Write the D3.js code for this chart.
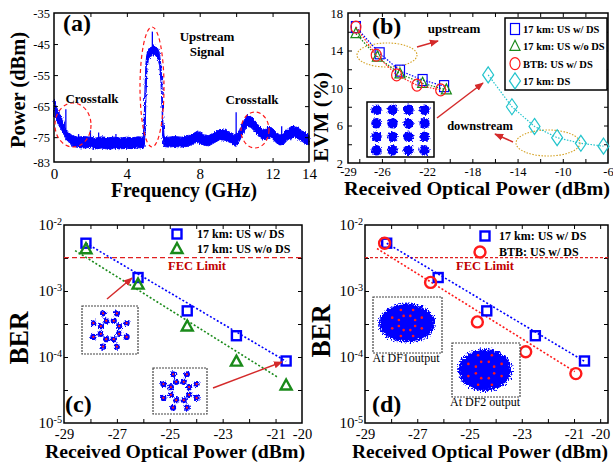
<!DOCTYPE html>
<html>
<head>
<meta charset="utf-8">
<script src="https://cdn.jsdelivr.net/npm/d3@7"></script>
<style>
  body { margin: 0; background: #fff; }
  svg text { font-family: "Liberation Serif", "Times New Roman", serif; }
</style>
</head>
<body>
<div id="chart"></div>
<script>
// ---------- Data ----------
// (a) spectrum: upper / lower edge of the noisy trace (dBm) and spurs
const specFreq  = [0, 0.1, 0.2, 0.3, 0.4, 0.5, 0.6, 0.8, 1.0, 1.3, 1.6, 2.0, 2.3, 2.6, 3.0, 3.3, 3.6, 4.0, 4.3, 4.6, 4.9, 4.95, 5.0, 5.05, 5.1, 5.2, 5.3, 5.45, 5.6, 5.7, 5.8, 5.87, 5.93, 5.98, 6.05, 6.3, 6.6, 7.0, 7.3, 7.6, 7.9, 8.2, 8.5, 8.8, 9.1, 9.4, 9.7, 10.0, 10.2, 10.4, 10.6, 10.8, 11.0, 11.2, 11.4, 11.6, 11.8, 12.0, 12.2, 12.4, 12.6, 12.8, 13.0, 13.2, 13.4, 13.6, 13.8, 14.0]
const specUpper = [-63, -65, -66.5, -67.5, -68.5, -70, -72, -73.5, -74.5, -75, -74.8, -75, -75.3, -74.9, -75.2, -75, -75.3, -75, -75.2, -74.9, -75, -70, -58, -51, -48, -46.5, -46, -45.5, -45.8, -46.5, -48.5, -52, -58, -70, -75, -75, -74.8, -75, -74.8, -74, -73, -74.2, -74.5, -73.5, -72.5, -72.8, -73.5, -74.5, -72.5, -70, -68, -68.3, -69.5, -71, -72.3, -72.5, -71.5, -72.2, -73.5, -74.3, -74, -72.5, -71.7, -71.5, -72, -73, -73.5, -74.5]
const specLower = [-68, -69, -70.5, -71.5, -72.5, -73.5, -75, -76.5, -77.8, -78.3, -78.5, -78.3, -78.8, -78.5, -78.9, -78.5, -78.8, -78.6, -78.7, -78.4, -78.5, -78, -74, -62, -53, -49.5, -49, -48.5, -48.8, -49.5, -52, -57, -65, -76, -78, -78.2, -78, -78.2, -78, -77.3, -76.5, -77.5, -77.8, -76.8, -75.8, -76, -76.8, -78, -76, -73.5, -71.5, -71.8, -73, -74.5, -75.5, -75.8, -75, -75.5, -76.8, -77.5, -77.3, -76, -75.2, -75, -75.5, -76.3, -77, -77.5]
const spurFreq  = [0.65, 1.35, 2.0, 2.45, 3.4, 5.4, 10.0, 12.5, 13.0]
const spurLevel = [-66, -74, -72.8, -73.5, -74, -41, -67, -71.5, -72.5]

// (b) EVM (%) vs received optical power (dBm)
const usWithDsPower    = [-28.3, -26.2, -24.4, -22.4, -20.5]
const usWithDsEvm      = [16.5, 13.7, 11.85, 10.85, 10.2]
const usWithoutDsPower = [-28.3, -26.4, -24.4, -22.4, -20.3]
const usWithoutDsEvm   = [15.8, 13.3, 11.5, 10.5, 9.8]
const btbPower         = [-28.3, -26.5, -24.7, -22.9, -20.8]
const btbEvm           = [16.5, 13.5, 11.4, 10.3, 9.8]
const dsPower          = [-16.6, -14.5, -12.5, -10.5, -8.4, -6.4]
const dsEvm            = [11.4, 8.0, 5.9, 4.7, 4.1, 3.8]

// (c), (d) BER vs received optical power (dBm)
const berUsWithDsPower    = [-28.17, -26.2, -24.34, -22.48, -20.6]
const berUsWithDs         = [5.3e-3, 1.6e-3, 5.0e-4, 2.1e-4, 8.7e-5]
const berUsWithoutDsPower = [-28.17, -26.2, -24.34, -22.48, -20.6]
const berUsWithoutDs      = [4.3e-3, 1.25e-3, 2.9e-4, 8.5e-5, 3.7e-5]
const berBtbPower         = [-28.25, -26.49, -24.7, -22.85, -20.93]
const berBtb              = [5.3e-3, 1.35e-3, 3.4e-4, 1.2e-4, 5.6e-5]
// dotted linear fits (end points)
const fitUsWithDsPower    = [-28.17, -20.6]
const fitUsWithDs         = [5.3e-3, 8.6e-5]
const fitUsWithoutDsPower = [-28.58, -20.94]
const fitUsWithoutDs      = [4.1e-3, 5.0e-5]
const fitBtbPower         = [-28.54, -20.97]
const fitBtb              = [4.4e-3, 6.0e-5]
const fecLimit = 3.2e-3

// constellation of the insets (two rings of 8 points)
const ringRadius = [1, 0.55]
const ringAngles = [22.5, 67.5, 112.5, 157.5, 202.5, 247.5, 292.5, 337.5]
const qamLevels  = [-1.5, -0.5, 0.5, 1.5]

// ---------- Colors ----------
const BLUE = '#0000ff', GREEN = '#1a8a1a', RED = '#ff1a1a', CYAN = '#22c4cc'
const ARROW = '#d42a2a', FEC = '#c00000', GOLD = '#d4a020'

// ---------- SVG ----------
const svg = d3.select('#chart')
  .append('svg')
  .attr('width', 613)
  .attr('height', 464)
  .style('background', '#fff')

const defs = svg.append('defs')
defs.append('marker')
  .attr('id', 'arrow')
  .attr('viewBox', '0 0 10 10')
  .attr('refX', 9).attr('refY', 5)
  .attr('markerWidth', 6).attr('markerHeight', 6)
  .attr('orient', 'auto')
  .append('path').attr('d', 'M0,1L10,5L0,9z').attr('fill', ARROW)

function roughFilter(id, freq, scale) {
  const f = defs.append('filter').attr('id', id)
    .attr('x', '-20%').attr('y', '-20%').attr('width', '140%').attr('height', '140%')
  f.append('feTurbulence').attr('type', 'fractalNoise').attr('baseFrequency', freq)
    .attr('numOctaves', 2).attr('seed', 4).attr('result', 'n')
  f.append('feDisplacementMap').attr('in', 'SourceGraphic').attr('in2', 'n')
    .attr('scale', scale).attr('xChannelSelector', 'R').attr('yChannelSelector', 'G')
}
roughFilter('roughTrace', '0.9 0.35', 3.5)
roughFilter('roughBlob', '0.6', 4)
roughFilter('roughCloud', '0.7', 9)

const fmt = d => String(d)

// Frame with inward ticks on all four sides, labels on bottom and left
function axes(x, y, o) {
  const [xl, xr] = x.range()
  const [yb, yt] = y.range()
  const g = svg.append('g')
  const tick = (axis, vals) => axis.tickValues(vals).tickSizeInner(-4).tickSizeOuter(0).tickFormat('')
  g.append('g').attr('transform', `translate(0,${yb})`).call(tick(d3.axisBottom(x), o.xTicks))
  g.append('g').attr('transform', `translate(0,${yt})`).call(tick(d3.axisTop(x), o.xTicks))
  g.append('g').attr('transform', `translate(${xl},0)`).call(tick(d3.axisLeft(y), o.yTicks))
  g.append('g').attr('transform', `translate(${xr},0)`).call(tick(d3.axisRight(y), o.yTicks))

  const xLab = g.append('g').attr('transform', `translate(0,${yb})`)
    .call(d3.axisBottom(x).tickValues(o.xLabels).tickSize(0).tickPadding(o.xPad).tickFormat(fmt))
  xLab.attr('font-family', null).attr('font-size', o.xFont)
  const yLab = g.append('g').attr('transform', `translate(${xl},0)`)
    .call(d3.axisLeft(y).tickValues(o.yLabels).tickSize(0).tickPadding(o.yPad).tickFormat(o.log ? '' : fmt))
  yLab.attr('font-family', null).attr('font-size', o.yFont)
  if (o.log) {
    yLab.selectAll('.tick text').each(function (d) {
      const t = d3.select(this)
      t.append('tspan').text('10')
      t.append('tspan').attr('dy', '-0.55em').attr('font-size', o.yFont * 0.68).text(String(Math.round(Math.log10(d))))
    })
  }
  g.selectAll('.domain').remove()
  g.selectAll('.tick line').attr('stroke', '#000').attr('stroke-width', 1)
  g.append('rect')
    .attr('x', xl).attr('y', yt).attr('width', xr - xl).attr('height', yb - yt)
    .attr('fill', 'none').attr('stroke', '#000').attr('stroke-width', 1.5)
}

function label(x, y, str, size, opt = {}) {
  const t = svg.append('text')
    .attr('x', x).attr('y', y)
    .attr('font-size', size)
    .attr('font-weight', opt.weight || 'bold')
    .attr('text-anchor', opt.anchor || 'middle')
    .attr('fill', opt.color || '#000')
    .text(str)
  if (opt.len) t.attr('textLength', opt.len).attr('lengthAdjust', 'spacingAndGlyphs')
  if (opt.rotate) t.attr('transform', `rotate(-90,${x},${y})`)
  return t
}

function arrow(x1, y1, x2, y2) {
  svg.append('line')
    .attr('x1', x1).attr('y1', y1).attr('x2', x2).attr('y2', y2)
    .attr('stroke', ARROW).attr('stroke-width', 1.5)
    .attr('marker-end', 'url(#arrow)')
}

// hollow markers
function symbol(g, type, cx, cy, w, h, color, sw) {
  let el
  if (type === 'square') {
    el = g.append('rect').attr('x', cx - w / 2).attr('y', cy - h / 2).attr('width', w).attr('height', h)
  } else if (type === 'circle') {
    el = g.append('ellipse').attr('cx', cx).attr('cy', cy).attr('rx', w / 2).attr('ry', h / 2)
  } else if (type === 'triangle') {
    el = g.append('path').attr('d', `M${cx},${cy - h * 0.6}L${cx + w / 2},${cy + h * 0.4}L${cx - w / 2},${cy + h * 0.4}Z`)
  } else {
    el = g.append('path').attr('d', `M${cx},${cy - h / 2}L${cx + w / 2},${cy}L${cx},${cy + h / 2}L${cx - w / 2},${cy}Z`)
  }
  el.attr('fill', 'none').attr('stroke', color).attr('stroke-width', sw)
}

function series(x, y, xs, ys, type, color, w, h, sw, dotted) {
  const g = svg.append('g')
  if (dotted) {
    g.append('path')
      .attr('d', d3.line()(xs.map((v, i) => [x(v), y(ys[i])])))
      .attr('fill', 'none').attr('stroke', color).attr('stroke-width', 1.2)
      .attr('stroke-dasharray', '1.5,1.5')
  }
  xs.forEach((v, i) => symbol(g, type, x(v), y(ys[i]), w, h, color, sw))
}

function fitLine(x, y, xs, ys, color) {
  svg.append('path')
    .attr('d', d3.line()(xs.map((v, i) => [x(v), y(ys[i])])))
    .attr('fill', 'none').attr('stroke', color).attr('stroke-width', 1.6)
    .attr('stroke-dasharray', '2,2')
}

// constellation points of the ring insets
const ringPoints = ringRadius.flatMap(r => ringAngles.map(a => [r * Math.cos(a * Math.PI / 180), -r * Math.sin(a * Math.PI / 180)]))

function ringInset(x0, y0, w, h, radius) {
  const cx = x0 + w / 2, cy = y0 + h / 2
  svg.append('rect').attr('x', x0).attr('y', y0).attr('width', w).attr('height', h)
    .attr('fill', '#fff').attr('stroke', '#444').attr('stroke-width', 1.2).attr('stroke-dasharray', '2,1')
  const g = svg.append('g')
  g.append('g').attr('filter', 'url(#roughBlob)')
    .selectAll('circle').data(ringPoints).join('circle')
    .attr('cx', d => cx + d[0] * radius).attr('cy', d => cy + d[1] * radius)
    .attr('r', 3.1).attr('fill', BLUE)
  g.append('g').selectAll('circle').data(ringPoints).join('circle')
    .attr('cx', d => cx + d[0] * radius).attr('cy', d => cy + d[1] * radius)
    .attr('r', 1.1).attr('fill', RED)
}

function cloudInset(x0, y0, w, h, cx, cy, rx, ry, dotR) {
  svg.append('rect').attr('x', x0).attr('y', y0).attr('width', w).attr('height', h)
    .attr('fill', '#fff').attr('stroke', '#444').attr('stroke-width', 1.2).attr('stroke-dasharray', '2,1')
  svg.append('ellipse').attr('cx', cx).attr('cy', cy).attr('rx', rx - 2).attr('ry', ry - 2)
    .attr('fill', BLUE).attr('filter', 'url(#roughCloud)')
  svg.append('g').selectAll('circle').data(ringPoints).join('circle')
    .attr('cx', d => cx + d[0] * dotR[0]).attr('cy', d => cy + d[1] * dotR[1])
    .attr('r', 1.3).attr('fill', RED)
}

// ================= (a) =================
const xA = d3.scaleLinear().domain([0, 14]).range([54, 309])
const yA = d3.scaleLinear().domain([-83, -35]).range([162, 13])

svg.append('path')
  .datum(specFreq)
  .attr('d', d3.area().x(d => xA(d)).y0((d, i) => yA(specLower[i])).y1((d, i) => yA(specUpper[i])))
  .attr('fill', BLUE).attr('stroke', BLUE).attr('stroke-width', 1)
  .attr('filter', 'url(#roughTrace)')
svg.append('g').selectAll('line').data(spurFreq).join('line')
  .attr('x1', d => xA(d)).attr('x2', d => xA(d))
  .attr('y1', (d, i) => yA(spurLevel[i] > -50 ? -47 : -76))
  .attr('y2', (d, i) => yA(spurLevel[i]))
  .attr('stroke', BLUE).attr('stroke-width', 1.3)

axes(xA, yA, {
  xTicks: [2, 4, 6, 8, 10, 12], xLabels: [0, 4, 8, 12, 14], xPad: 6, xFont: 15,
  yTicks: [-75, -65, -55, -45], yLabels: [-83, -75, -65, -55, -45, -35], yPad: 4, yFont: 12.5
})

const ellipses = svg.append('g').attr('fill', 'none').attr('stroke', RED).attr('stroke-width', 1.2).attr('stroke-dasharray', '4,3')
ellipses.append('ellipse').attr('cx', 73).attr('cy', 125).attr('rx', 18).attr('ry', 22)
ellipses.append('ellipse').attr('cx', 152).attr('cy', 87).attr('rx', 12).attr('ry', 60)
ellipses.append('ellipse').attr('cx', 255).attr('cy', 130).attr('rx', 14).attr('ry', 18)

label(63, 31, '(a)', 24, { anchor: 'start' })
label(207, 41, 'Upstream', 13)
label(207, 56, 'Signal', 13)
label(92, 103, 'Crosstalk', 13)
label(252, 104, 'Crosstalk', 13)
label(184, 197, 'Frequency (GHz)', 20, { len: 146 })
label(25, 90, 'Power (dBm)', 20, { rotate: true, len: 116 })

// ================= (b) =================
const xB = d3.scaleLinear().domain([-29, -6]).range([348, 608])
const yB = d3.scaleLinear().domain([2, 18]).range([163, 13])

axes(xB, yB, {
  xTicks: d3.range(-28, -7, 2), xLabels: [-29, -26, -22, -18, -14, -10, -6], xPad: 4, xFont: 12.5,
  yTicks: d3.range(4, 18, 2), yLabels: [2, 6, 10, 14, 18], yPad: 5, yFont: 12.5
})

// ellipses around the groups
const gold = svg.append('g').attr('fill', 'none').attr('stroke', GOLD).attr('stroke-width', 1.1).attr('stroke-dasharray', '1.5,1.5')
gold.append('ellipse').attr('cx', 387).attr('cy', 55).attr('rx', 30).attr('ry', 12)
gold.append('ellipse').attr('cx', 548).attr('cy', 143).attr('rx', 32).attr('ry', 13)

series(xB, yB, dsPower, dsEvm, 'diamond', CYAN, 11, 16, 1.2, true)
series(xB, yB, usWithDsPower, usWithDsEvm, 'square', BLUE, 9, 11, 1.2, true)
series(xB, yB, usWithoutDsPower, usWithoutDsEvm, 'triangle', GREEN, 10, 10, 1.2, true)
series(xB, yB, btbPower, btbEvm, 'circle', RED, 10, 12, 1.2, true)

// 16-QAM inset
svg.append('rect').attr('x', 367).attr('y', 102).attr('width', 67).attr('height', 55)
  .attr('fill', '#fff').attr('stroke', '#000').attr('stroke-width', 1.5)
const qamPoints = qamLevels.flatMap(i => qamLevels.map(q => [i, q]))
svg.append('g').attr('filter', 'url(#roughBlob)')
  .selectAll('circle').data(qamPoints).join('circle')
  .attr('cx', d => 400.5 + d[0] * 16).attr('cy', d => 130 + d[1] * 13.5)
  .attr('r', 5.2).attr('fill', BLUE)

arrow(417, 47, 438, 41)
arrow(513, 142, 495, 134)
arrow(437, 118, 483, 83)
label(454, 33, 'upstream', 13)
label(480, 130, 'downstream', 12.5)
label(372, 34, '(b)', 24, { anchor: 'start' })

// legend
svg.append('rect').attr('x', 505).attr('y', 18).attr('width', 102).attr('height', 72)
  .attr('fill', '#fff').attr('stroke', '#000').attr('stroke-width', 1.5)
const legB = [
  ['square', BLUE, 9, 11, '17 km: US w/ DS'],
  ['triangle', GREEN, 10, 10, '17 km: US w/o DS'],
  ['circle', RED, 10, 12, 'BTB: US w/ DS'],
  ['diamond', CYAN, 11, 16, '17 km: DS']
]
legB.forEach((d, i) => {
  const cy = 29 + i * 17.3
  symbol(svg, d[0], 515, cy, d[2], d[3], d[1], 1.2)
  label(523, cy + 4, d[4], 10.5, { anchor: 'start' })
})

label(477, 195, 'Received Optical Power (dBm)', 19, { len: 266 })
label(328, 117, 'EVM (%)', 22, { rotate: true, len: 90 })

// ================= (c) =================
const xC = d3.scaleLinear().domain([-29, -20]).range([64, 302])
const yC = d3.scaleLog().domain([1e-5, 1e-2]).range([423, 225])
const logTicks = [10 ** -4.5, 1e-4, 10 ** -3.5, 1e-3, 10 ** -2.5]

axes(xC, yC, {
  xTicks: d3.range(-28, -20, 1), xLabels: [-29, -27, -25, -23, -21, -20], xPad: 6, xFont: 14.5,
  yTicks: logTicks, yLabels: [1e-5, 1e-4, 1e-3, 1e-2], yPad: 2, yFont: 15, log: true
})

svg.append('line').attr('x1', 64).attr('x2', 302).attr('y1', yC(fecLimit)).attr('y2', yC(fecLimit))
  .attr('stroke', '#e02020').attr('stroke-width', 1.2).attr('stroke-dasharray', '5,3')
label(197, 270, 'FEC Limit', 12.5, { color: FEC })

fitLine(xC, yC, fitUsWithDsPower, fitUsWithDs, BLUE)
fitLine(xC, yC, fitUsWithoutDsPower, fitUsWithoutDs, GREEN)
series(xC, yC, berUsWithDsPower, berUsWithDs, 'square', BLUE, 9, 9, 2.4, false)
series(xC, yC, berUsWithoutDsPower, berUsWithoutDs, 'triangle', GREEN, 11, 10, 2.4, false)

ringInset(82, 306, 56, 48, 18)
ringInset(153, 368, 54, 46, 18)
arrow(107, 299, 132, 278)
arrow(213, 388, 282, 362)

symbol(svg, 'square', 177, 234, 9, 9, BLUE, 2.4)
label(197, 238, '17 km: US w/ DS', 12, { anchor: 'start' })
symbol(svg, 'triangle', 177, 249, 11, 10, GREEN, 2.4)
label(197, 253, '17 km: US w/o DS', 12, { anchor: 'start' })

label(65, 412, '(c)', 24, { anchor: 'start' })
label(175, 458, 'Received Optical Power (dBm)', 19, { len: 260 })
label(28, 338, 'BER', 28, { rotate: true, len: 53 })

// ================= (d) =================
const xD = d3.scaleLinear().domain([-29, -19.7]).range([365, 608])
const yD = d3.scaleLog().domain([1e-5, 1e-2]).range([423, 225])

axes(xD, yD, {
  xTicks: d3.range(-28, -19, 1), xLabels: [-29, -27, -25, -23, -21, -20], xPad: 6, xFont: 14.5,
  yTicks: logTicks, yLabels: [1e-5, 1e-4, 1e-3, 1e-2], yPad: 2, yFont: 15, log: true
})

svg.append('line').attr('x1', 365).attr('x2', 608).attr('y1', yD(fecLimit)).attr('y2', yD(fecLimit))
  .attr('stroke', '#e02020').attr('stroke-width', 1.2).attr('stroke-dasharray', '3,2')
label(485, 270, 'FEC Limit', 12.5, { color: FEC })

fitLine(xD, yD, fitUsWithDsPower, fitUsWithDs, BLUE)
fitLine(xD, yD, fitBtbPower, fitBtb, RED)
series(xD, yD, berUsWithDsPower, berUsWithDs, 'square', BLUE, 9, 9, 2.4, false)
series(xD, yD, berBtbPower, berBtb, 'circle', RED, 11, 11, 2.4, false)

cloudInset(373, 297, 69, 56, 407, 323, 30, 21.5, [16, 14])
cloudInset(452, 343, 68, 54, 485, 370, 29, 23, [18, 16])
label(406, 362, 'At DF1output', 12, { weight: 'normal' })
label(485, 406, 'At DF2 output', 12, { weight: 'normal' })

symbol(svg, 'square', 485, 236, 9, 9, BLUE, 2.4)
label(499, 240, '17 km: US w/ DS', 12, { anchor: 'start' })
symbol(svg, 'circle', 480, 252, 11, 11, RED, 2.4)
label(499, 256, 'BTB: US w/ DS', 12, { anchor: 'start' })

label(372, 412, '(d)', 24, { anchor: 'start' })
label(480, 458, 'Received Optical Power (dBm)', 19, { len: 256 })
label(330, 331, 'BER', 28, { rotate: true, len: 53 })
</script>
</body>
</html>
